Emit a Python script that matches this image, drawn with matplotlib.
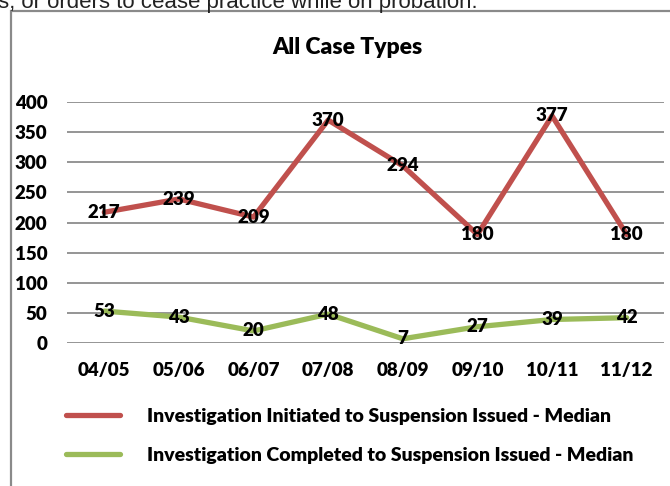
import numpy as np
import matplotlib
matplotlib.use("Agg")
import matplotlib.pyplot as plt
from matplotlib import font_manager
from matplotlib.patches import Rectangle

years = ["04/05", "05/06", "06/07", "07/08", "08/09", "09/10", "10/11", "11/12"]
initiated = [217, 239, 209, 370, 294, 180, 377, 180]
completed = [53, 43, 20, 48, 7, 27, 39, 42]
name_initiated = "Investigation Initiated to Suspension Issued - Median"
name_completed = "Investigation Completed to Suspension Issued - Median"

# Lato ExtraBold as a stand-in for Calibri Bold
bold_file = [f.fname for f in font_manager.fontManager.ttflist if f.fname.endswith("Lato-ExtraBold.ttf")]
if bold_file:
    def bf(size):
        return font_manager.FontProperties(fname=bold_file[0], size=size)
else:
    def bf(size):
        return font_manager.FontProperties(family="DejaVu Sans", weight="bold", size=size)

W, H = 670, 486
fig = plt.figure(figsize=(W / 100, H / 100), dpi=100)

# text of the page above the chart, cut off at the top
fig.text(-2 / W, 1 - 8 / H, "s, or orders to cease practice while on probation.",
         family="Liberation Sans", fontsize=16, color="#222222", va="baseline", ha="left")

# chart frame (right and bottom cut off)
fig.patches.append(Rectangle((11 / W, -0.1), 2, (1 - 11 / H) + 0.1, transform=fig.transFigure,
                             fill=False, edgecolor="#8a8a8a", linewidth=1.6))

ax = fig.add_axes([67 / W, 1 - 343 / H, (664 - 67) / W, (343 - 102) / H])
x = np.arange(len(years))
red, green = "#C0504D", "#9BBB59"
ax.plot(x, initiated, color=red, linewidth=3.8, solid_capstyle="round", label=name_initiated)
ax.plot(x, completed, color=green, linewidth=3.8, solid_capstyle="round", label=name_completed)

for xi, v in zip(x, initiated):
    ax.text(xi, v, str(v), ha="center", va="center", fontproperties=bf(13.5))
for xi, v in zip(x, completed):
    ax.text(xi, v, str(v), ha="center", va="center", fontproperties=bf(13.5))

ax.set_xlim(-0.5, 7.5)
ax.set_ylim(0, 400)
ax.set_yticks(range(0, 401, 50))
ax.set_xticks(x)
ax.set_xticklabels(years)
ax.yaxis.grid(True, color="#8c8c8c", linewidth=1.3)
ax.set_axisbelow(True)
for s in ax.spines.values():
    s.set_visible(False)
ax.tick_params(axis="both", length=0)
ax.tick_params(axis="y", pad=14)
ax.tick_params(axis="x", pad=14)
for lab in ax.get_xticklabels() + ax.get_yticklabels():
    lab.set_fontproperties(bf(13.5))

fig.text(347 / W, 1 - 47 / H, "All Case Types", ha="center", va="center",
         fontproperties=bf(16.5))

leg = ax.legend(loc="upper left", bbox_to_anchor=(58 / W, 1 - 400 / H),
                bbox_transform=fig.transFigure, frameon=False, prop=bf(14),
                handlelength=2.8, handletextpad=1.4, labelspacing=1.15, borderaxespad=0)

fig.savefig("out.png", dpi=100)
